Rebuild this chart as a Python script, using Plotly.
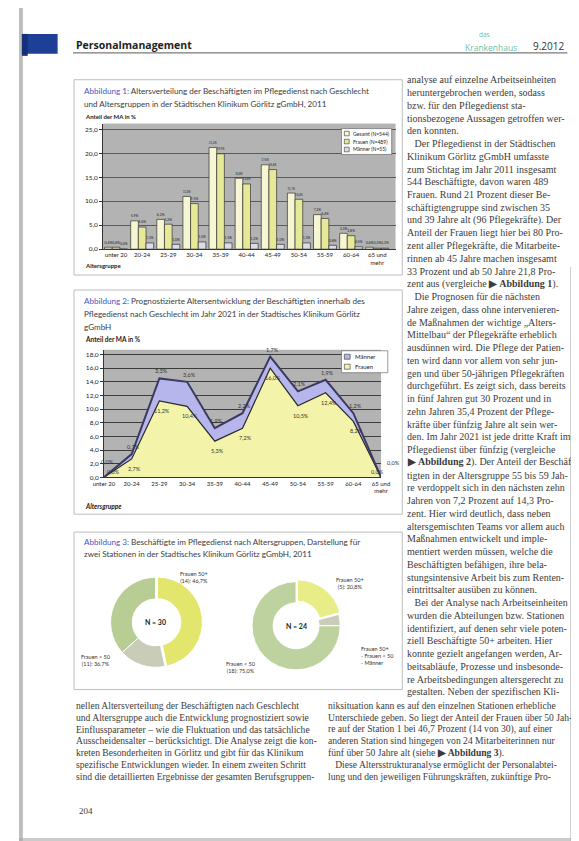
import plotly.graph_objects as go

W, H = 579, 841
def px(x): return x / W
def py(y): return 1 - y / H

# ---------------- data ----------------
age_groups = ["unter 20", "20-24", "25-29", "30-34", "35-39", "40-44",
              "45-49", "50-54", "55-59", "60-64", "65 und<br>mehr"]
series_2011 = ["Gesamt (N=544)", "Frauen (N=489)", "Männer (N=55)"]
gesamt_2011 = [0.4, 5.9, 6.2, 11.0, 21.2, 14.8, 17.6, 11.7, 7.2, 3.3, 0.4]
frauen_2011 = [0.4, 4.6, 5.2, 9.5, 19.9, 13.6, 16.6, 10.4, 6.4, 2.8, 0.2]
maenner_2011 = [0.0, 1.3, 1.0, 1.5, 1.3, 1.2, 1.0, 1.3, 0.8, 0.5, 0.2]

series_2021 = ["Frauen", "Männer"]
frauen_2021 = [0.0, 2.7, 11.2, 10.4, 5.3, 7.2, 16.0, 10.5, 12.4, 8.2, 0.0]
maenner_2021 = [0.0, 0.7, 3.3, 3.6, 1.9, 2.2, 1.7, 2.1, 1.9, 1.2, 0.0]

donut_labels = ["Frauen 50+", "Männer", "Frauen < 50"]
station1_counts = [14, 5, 11]
station2_counts = [5, 1, 18]

y_ticks_2011 = [0, 5, 10, 15, 20, 25]
y_ticks_2021 = [0, 2, 4, 6, 8, 10, 12, 14, 16, 18]

# ---------------- styles ----------------
SANS = "Lato"
SERIF = "Liberation Serif"
TXT = "#3c3c3c"
BLUE = "#4a55c4"

fig = go.Figure()

# ---- Abbildung 1: bars ----
bar_cols = ["#f6f6d2", "#e6ea98", "#dcdce8"]
for name, vals, col in zip(series_2011, [gesamt_2011, frauen_2011, maenner_2011], bar_cols):
    fig.add_trace(go.Bar(
        x=age_groups, y=vals, name=name, xaxis="x", yaxis="y",
        marker=dict(color=col, line=dict(color="#333333", width=0.7)),
        texttemplate="%{y:.1f}%", textposition="outside",
        textfont=dict(size=5, color="#222", family=SANS),
        cliponaxis=False, showlegend=False))

# ---- Abbildung 2: stacked areas ----
area_cols = ["#f3f3aa", "#b6b6ec"]
fig.add_trace(go.Scatter(
    x=age_groups, y=frauen_2021, name=series_2021[0], xaxis="x2", yaxis="y2",
    stackgroup="one", mode="lines", fillcolor=area_cols[0],
    line=dict(color="#2a2a2a", width=1.2), showlegend=False))
fig.add_trace(go.Scatter(
    x=age_groups, y=maenner_2021, name=series_2021[1], xaxis="x2", yaxis="y2",
    stackgroup="one", mode="lines", fillcolor=area_cols[1],
    line=dict(color="#3a3a62", width=2), showlegend=False))

# ---- Abbildung 3: donuts ----
donut_cols_1 = ["#e2e66c", "#c9cdb8", "#b8cd94"]
donut_cols_2 = ["#e8ed88", "#c9cdb8", "#bdd29e"]
fig.add_trace(go.Pie(
    labels=donut_labels, values=station1_counts, hole=0.52, sort=False,
    direction="clockwise", rotation=0, textinfo="none", pull=[0.04, 0, 0],
    marker=dict(colors=donut_cols_1, line=dict(color="white", width=1)),
    domain=dict(x=[px(93), px(190)], y=[py(665), py(568)]), showlegend=False))
fig.add_trace(go.Pie(
    labels=donut_labels, values=station2_counts, hole=0.52, sort=False,
    direction="clockwise", rotation=0, textinfo="none", pull=[0.05, 0, 0],
    marker=dict(colors=donut_cols_2, line=dict(color="white", width=1)),
    domain=dict(x=[px(239), px(335)], y=[py(668), py(572)]), showlegend=False))

def pct(n, tot):
    return f"{n / tot * 100:.1f}%".replace(".", ",")

def fmt(v):
    return f"{v:.1f}%".replace(".", ",")

s1, s2 = sum(station1_counts), sum(station2_counts)

# ---------------- layout ----------------
axis_font = dict(size=6.5, color="#222", family=SANS)
fig.update_layout(
    width=W, height=H, margin=dict(l=0, r=0, t=0, b=0),
    paper_bgcolor="white", plot_bgcolor="#b3b3b3",
    separators=",.", barmode="group", bargap=0.12, bargroupgap=0.0,
    font=dict(family=SANS, color="#222"), showlegend=False,
    xaxis=dict(domain=[px(87), px(390)], anchor="y", type="category",
               range=[-0.5, 10.7], tickfont=dict(size=6, color="#222", family=SANS),
               showline=True, linecolor="#333", linewidth=1, ticks="", showgrid=False),
    yaxis=dict(domain=[py(242), py(116)], anchor="x", range=[0, 26.2],
               tickvals=y_ticks_2011, tickformat=".1f", ticksuffix="%",
               tickfont=axis_font, showline=True, linecolor="#333", ticks="outside",
               ticklen=3, tickcolor="#333", gridcolor="#5a5a5a", gridwidth=1,
               zeroline=False),
    xaxis2=dict(domain=[px(88), px(375)], anchor="y2", type="category",
                range=[0, 10], tickfont=dict(size=6, color="#222", family=SANS),
                showline=True, linecolor="#333", linewidth=1, ticks="", showgrid=False),
    yaxis2=dict(domain=[py(471), py(343)], anchor="x2", range=[0, 18.7],
                tickvals=y_ticks_2021, tickformat=".1f", ticksuffix="%",
                tickfont=axis_font, showline=True, linecolor="#333", ticks="outside",
                ticklen=3, tickcolor="#333", gridcolor="#3c3c3c", gridwidth=1,
                zeroline=False),
)

shapes = []
def R(x0, y0, x1, y1, fill, line_col=None, lw=0, layer="above", opacity=1):
    shapes.append(dict(type="rect", xref="paper", yref="paper", x0=px(x0), x1=px(x1),
                       y0=py(y1), y1=py(y0), fillcolor=fill,
                       line=dict(color=line_col or fill, width=lw), layer=layer, opacity=opacity))

# page edges / scan shading
R(0, 0, 4, 841, "#bdbdbd", layer="below")
R(571, 260, 579, 841, "#8a8a8a", opacity=0.55)
R(575, 300, 579, 841, "#2e2e2e", opacity=0.8)
R(0, 833, 579, 841, "#a8a8a8", opacity=0.6)
# header
R(3, 26, 40, 46, "#1d3f96")
R(3, 26, 9, 48, "#15307a")
shapes.append(dict(type="line", xref="paper", yref="paper", x0=px(56), x1=px(568), y0=py(45), y1=py(45),
                   line=dict(color="#7a7a7a", width=1.4)))
# figure boxes
for (t, b) in [(72, 268), (283, 508), (526, 684)]:
    shapes.append(dict(type="rect", xref="paper", yref="paper", x0=px(57), x1=px(397),
                       y0=py(b), y1=py(t), line=dict(color="#bdbdbd", width=1),
                       fillcolor="rgba(0,0,0,0)", layer="below"))

ann = []
def A(x, y, text, size=8, color=TXT, family=SANS, xanchor="left", **kw):
    ann.append(dict(x=px(x), y=py(y), xref="paper", yref="paper", text=text,
                    showarrow=False, xanchor=xanchor, yanchor="middle",
                    font=dict(size=size, color=color, family=family), **kw))

# legend chart 1 (drawn box)
R(334, 121, 386, 147, "white", "#555", 0.6)
for i, (name, col) in enumerate(zip(series_2011, bar_cols)):
    yy = 126 + 8 * i
    R(337, yy - 2.3, 342, yy + 2.3, col, "#333", 0.6)
    A(344, yy, name, size=5, color="#222")
# legend chart 2
R(334, 344, 382, 366, "white", "#555", 0.6)
for i, (name, col) in enumerate(zip(series_2021[::-1], area_cols[::-1])):
    yy = 350 + 10 * i
    R(337, yy - 2.5, 343, yy + 2.5, col, "#333", 0.6)
    A(346, yy, name, size=6, color="#222")

fig.update_layout(shapes=shapes)

# chart 2 data labels (placed on the data scale)
n = len(age_groups)
for i, cat in enumerate(age_groups):
    tot = frauen_2021[i] + maenner_2021[i]
    if i == 0:
        fs, ms = (10, 5), (4, 15)
    elif i == n - 1:
        fs, ms = (-4, 5), (12, 14)
    else:
        fs, ms = (3, -10), (2, 7)
    ann.append(dict(x=cat, y=frauen_2021[i], xref="x2", yref="y2", text=fmt(frauen_2021[i]),
                    showarrow=False, xshift=fs[0], yshift=fs[1],
                    font=dict(size=5.5, color="#333", family=SANS)))
    ann.append(dict(x=cat, y=tot, xref="x2", yref="y2", text=fmt(maenner_2021[i]),
                    showarrow=False, xshift=ms[0], yshift=ms[1],
                    font=dict(size=5.5, color="#333", family=SANS)))

# header texts
A(57, 37, "<b>Personalmanagement</b>", size=10.5, color="#1e1e1e", family="Open Sans")
A(474, 26.5, "das", size=6.5, color="#6fc0a8", family="Open Sans")
A(460, 39.5, "Krankenhaus", size=8.5, color="#6fc0a8", family="Open Sans")
A(567, 38, "9.2012", size=10, color="#333", family="Open Sans", xanchor="right")

# figure titles
TS = 8.1
A(65, 83, f"<span style='color:{BLUE}'>Abbildung 1:</span> Altersverteilung der Beschäftigten im Pflegedienst nach Geschlecht", size=TS)
A(65, 96, "und Altersgruppen in der Städtischen Klinikum Görlitz gGmbH, 2011", size=TS)
A(65, 294, f"<span style='color:{BLUE}'>Abbildung 2:</span> Prognostizierte Altersentwicklung der Beschäftigten innerhalb des", size=TS)
A(65, 307, "Pflegedienst nach Geschlecht im Jahr 2021 in der Stadtisches Klinikum Görlitz", size=TS)
A(65, 320, "gGmbH", size=TS)
A(65, 536, f"<span style='color:{BLUE}'>Abbildung 3:</span> Beschäftigte im Pflegedienst nach Altersgruppen, Darstellung für", size=TS)
A(65, 548, "zwei Stationen in der Stadtisches Klinikum Görlitz gGmbH, 2011", size=TS)

# axis titles
A(66, 109, "<b>Anteil der MA in %</b>", size=6, color="#222")
A(66, 258, "<b>Altersgruppe</b>", size=6, color="#222")
A(66, 333, "<b>Anteil der MA in %</b>", size=6.5, color="#222")
A(66, 500, "<b><i>Altersgruppe</i></b>", size=6.5, color="#222")

# donut annotations
A(141.5, 616, "<b>N = 30</b>", size=7, color="#222", xanchor="center")
A(287, 620, "<b>N = 24</b>", size=7, color="#222", xanchor="center")
A(181, 572, f"{donut_labels[0]}<br>({station1_counts[0]}): {pct(station1_counts[0], s1)}",
  size=5.5, color="#333", xanchor="center", align="center")
A(80, 655, f"{donut_labels[2]}<br>({station1_counts[2]}): {pct(station1_counts[2], s1)}",
  size=5.5, color="#333", xanchor="center", align="center")
A(343, 578, f"{donut_labels[0]}<br>({station2_counts[0]}): {pct(station2_counts[0], s2)}",
  size=5.5, color="#333", xanchor="center", align="center")
A(230, 662, f"{donut_labels[2]}<br>({station2_counts[2]}): {pct(station2_counts[2], s2)}",
  size=5.5, color="#333", xanchor="center", align="center")
A(352, 650, "Frauen 50+<br>- Frauen < 50<br>- Männer", size=5.5, color="#333", align="left")

# body text – narrow right column
right_col = [
    "analyse auf einzelne Arbeitseinheiten",
    "heruntergebrochen werden, sodass",
    "bzw. für den Pflegedienst sta-",
    "tionsbezogene Aussagen getroffen wer-",
    "den konnten.",
    "   Der Pflegedienst in der Städtischen",
    "Klinikum Görlitz gGmbH umfasste",
    "zum Stichtag im Jahr 2011 insgesamt",
    "544 Beschäftigte, davon waren 489",
    "Frauen. Rund 21 Prozent dieser Be-",
    "schäftigtengruppe sind zwischen 35",
    "und 39 Jahre alt (96 Pflegekräfte). Der",
    "Anteil der Frauen liegt hier bei 80 Pro-",
    "zent aller Pflegekräfte, die Mitarbeite-",
    "rinnen ab 45 Jahre machen insgesamt",
    "33 Prozent und ab 50 Jahre 21,8 Pro-",
    "zent aus (vergleiche <b>▶ Abbildung 1</b>).",
    "   Die Prognosen für die nächsten",
    "Jahre zeigen, dass ohne intervenieren-",
    "de Maßnahmen der wichtige „Alters-",
    "Mittelbau“ der Pflegekräfte erheblich",
    "ausdünnen wird. Die Pflege der Patien-",
    "ten wird dann vor allem von sehr jun-",
    "gen und über 50-jährigen Pflegekräften",
    "durchgeführt. Es zeigt sich, dass bereits",
    "in fünf Jahren gut 30 Prozent und in",
    "zehn Jahren 35,4 Prozent der Pflege-",
    "kräfte über fünfzig Jahre alt sein wer-",
    "den. Im Jahr 2021 ist jede dritte Kraft im",
    "Pflegedienst über fünfzig (vergleiche",
    "<b>▶ Abbildung 2</b>). Der Anteil der Beschäf-",
    "tigten in der Altersgruppe 55 bis 59 Jah-",
    "re verdoppelt sich in den nächsten zehn",
    "Jahren von 7,2 Prozent auf 14,3 Pro-",
    "zent. Hier wird deutlich, dass neben",
    "altersgemischten Teams vor allem auch",
    "Maßnahmen entwickelt und imple-",
    "mentiert werden müssen, welche die",
    "Beschäftigten befähigen, ihre bela-",
    "stungsintensive Arbeit bis zum Renten-",
    "eintrittsalter ausüben zu können.",
    "   Bei der Analyse nach Arbeitseinheiten",
    "wurden die Abteilungen bzw. Stationen",
    "identifiziert, auf denen sehr viele poten-",
    "ziell Beschäftigte 50+ arbeiten. Hier",
    "konnte gezielt angefangen werden, Ar-",
    "beitsabläufe, Prozesse und insbesonde-",
    "re Arbeitsbedingungen altersgerecht zu",
    "gestalten. Neben der spezifischen Kli-",
]
for i, line in enumerate(right_col):
    A(400, 72 + 12.8 * i, line, size=10, family=SERIF)

bottom_left = [
    "nellen Altersverteilung der Beschäftigten nach Geschlecht",
    "und Altersgruppe auch die Entwicklung prognostiziert sowie",
    "Einflussparameter – wie die Fluktuation und das tatsächliche",
    "Ausscheidensalter – berücksichtigt. Die Analyse zeigt die kon-",
    "kreten Besonderheiten in Görlitz und gibt für das Klinikum",
    "spezifische Entwicklungen wieder. In einem zweiten Schritt",
    "sind die detaillierten Ergebnisse der gesamten Berufsgruppen-",
]
bottom_right = [
    "niksituation kann es auf den einzelnen Stationen erhebliche",
    "Unterschiede geben. So liegt der Anteil der Frauen über 50 Jah-",
    "re auf der Station 1 bei 46,7 Prozent (14 von 30), auf einer",
    "anderen Station sind hingegen von 24 Mitarbeiterinnen nur",
    "fünf über 50 Jahre alt (siehe <b>▶ Abbildung 3</b>).",
    "   Diese Altersstrukturanalyse ermöglicht der Personalabtei-",
    "lung und den jeweiligen Führungskräften, zukünftige Pro-",
]
for i, line in enumerate(bottom_left):
    A(57, 700 + 11.8 * i, line, size=9.6, family=SERIF)
for i, line in enumerate(bottom_right):
    A(318, 700 + 11.8 * i, line, size=9.6, family=SERIF)
A(60, 806, "204", size=9, family=SERIF)

fig.update_layout(annotations=ann)
fig.write_html("out.html")
